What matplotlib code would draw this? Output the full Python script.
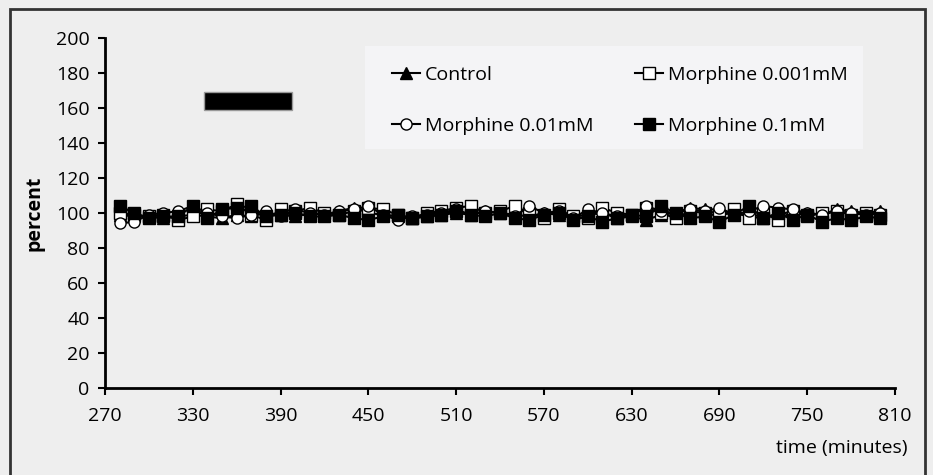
import matplotlib
matplotlib.use("Agg")
import matplotlib.pyplot as plt
import matplotlib.patches as patches

# sample times (minutes)
times = [280, 290, 300, 310, 320, 330, 340, 350, 360, 370,
         380, 390, 400, 410, 420, 430, 440, 450, 460, 470,
         480, 490, 500, 510, 520, 530, 540, 550, 560, 570,
         580, 590, 600, 610, 620, 630, 640, 650, 660, 670,
         680, 690, 700, 710, 720, 730, 740, 750, 760, 770,
         780, 790, 800]

control = [99, 98, 98, 97, 98, 99, 98, 97, 99, 98,
           100, 99, 98, 100, 99, 101, 103, 100, 99, 98,
           97, 98, 99, 100, 99, 101, 100, 99, 98, 100,
           99, 98, 99, 100, 97, 98, 96, 99, 100, 103,
           102, 99, 100, 98, 97, 99, 101, 100, 99, 102,
           101, 100, 101]

morph_001 = [100, 99, 98, 99, 96, 98, 102, 101, 105, 99,
             96, 102, 101, 103, 100, 99, 101, 103, 102, 99,
             97, 100, 101, 103, 104, 100, 101, 104, 100, 97,
             102, 98, 97, 103, 100, 99, 103, 100, 97, 101,
             100, 98, 102, 97, 100, 96, 101, 98, 100, 101,
             99, 100, 99]

morph_01 = [94, 95, 99, 100, 101, 104, 100, 98, 97, 99,
            101, 98, 102, 100, 99, 101, 102, 104, 99, 96,
            98, 99, 100, 102, 99, 101, 100, 98, 104, 100,
            101, 97, 102, 100, 98, 99, 104, 101, 100, 102,
            101, 103, 99, 101, 104, 103, 102, 100, 99, 101,
            100, 99, 100]

morph_1 = [104, 100, 97, 98, 98, 104, 97, 102, 103, 104,
           98, 99, 100, 98, 98, 99, 97, 96, 98, 99,
           97, 98, 99, 101, 99, 98, 100, 97, 96, 99,
           100, 96, 98, 95, 97, 99, 98, 104, 100, 97,
           98, 95, 99, 104, 97, 100, 96, 99, 95, 97,
           96, 98, 97]

# drug application bar
drug_start, drug_end = 338, 398
drug_low, drug_high = 159, 169

xticks = [270, 330, 390, 450, 510, 570, 630, 690, 750, 810]
yticks = [0, 20, 40, 60, 80, 100, 120, 140, 160, 180, 200]

plt.rcParams['font.family'] = ['Open Sans', 'DejaVu Sans']
bg = '#eeeeee'

fig = plt.figure(figsize=(9.33, 4.75), dpi=100, facecolor=bg)
ax = fig.add_axes([0.1125, 0.1832, 0.8468, 0.7368])
ax.set_facecolor(bg)

ms = 8
lw = 1.5
ax.plot(times, control, '-', color='black', lw=lw, marker='^', ms=ms,
        mfc='black', mec='black', label='Control')
ax.plot(times, morph_001, '-', color='black', lw=lw, marker='s', ms=ms,
        mfc='white', mec='black', label='Morphine 0.001mM')
ax.plot(times, morph_01, '-', color='black', lw=lw, marker='o', ms=ms,
        mfc='white', mec='black', label='Morphine 0.01mM')
ax.plot(times, morph_1, '-', color='black', lw=lw, marker='s', ms=ms,
        mfc='black', mec='black', label='Morphine 0.1mM')

ax.add_patch(patches.Rectangle((drug_start, drug_low), drug_end - drug_start,
                               drug_high - drug_low, facecolor='black',
                               edgecolor='#999999', lw=1))

ax.set_xlim(270, 810)
ax.set_ylim(0, 200)
ax.set_xticks(xticks)
ax.set_yticks(yticks)
ax.tick_params(labelsize=14, length=5, width=1.5, pad=6)
ax.tick_params(axis='x', pad=9)
for s in ['top', 'right']:
    ax.spines[s].set_visible(False)
for s in ['left', 'bottom']:
    ax.spines[s].set_linewidth(2)

ax.set_ylabel('percent', fontsize=14, fontweight='bold', labelpad=8)
fig.text(0.973, 0.057, 'time (minutes)', fontsize=14, ha='right', va='center')

# legend box
ax.add_patch(patches.Rectangle((0.329, 0.683), 0.630, 0.294, transform=ax.transAxes,
                               facecolor='#f4f4f6', edgecolor='none', zorder=1.5))

h, l = ax.get_legend_handles_labels()
order = [0, 2, 1, 3]
leg = ax.legend([h[i] for i in order], [l[i] for i in order], ncol=2,
                loc='upper left', bbox_to_anchor=(0.363, 0.920, 0.577, 0),
                mode='expand', borderaxespad=0, borderpad=0, fontsize=14,
                handlelength=1.45, handletextpad=0.25, labelspacing=1.7,
                frameon=False)

fig.patches.append(patches.Rectangle((10 / 933, -0.05), 915 / 933, 1.0 - 9 / 475 + 0.05,
                                     transform=fig.transFigure, fill=False,
                                     edgecolor='#333333', lw=2))

fig.savefig('out.png', dpi=100, facecolor=bg)
